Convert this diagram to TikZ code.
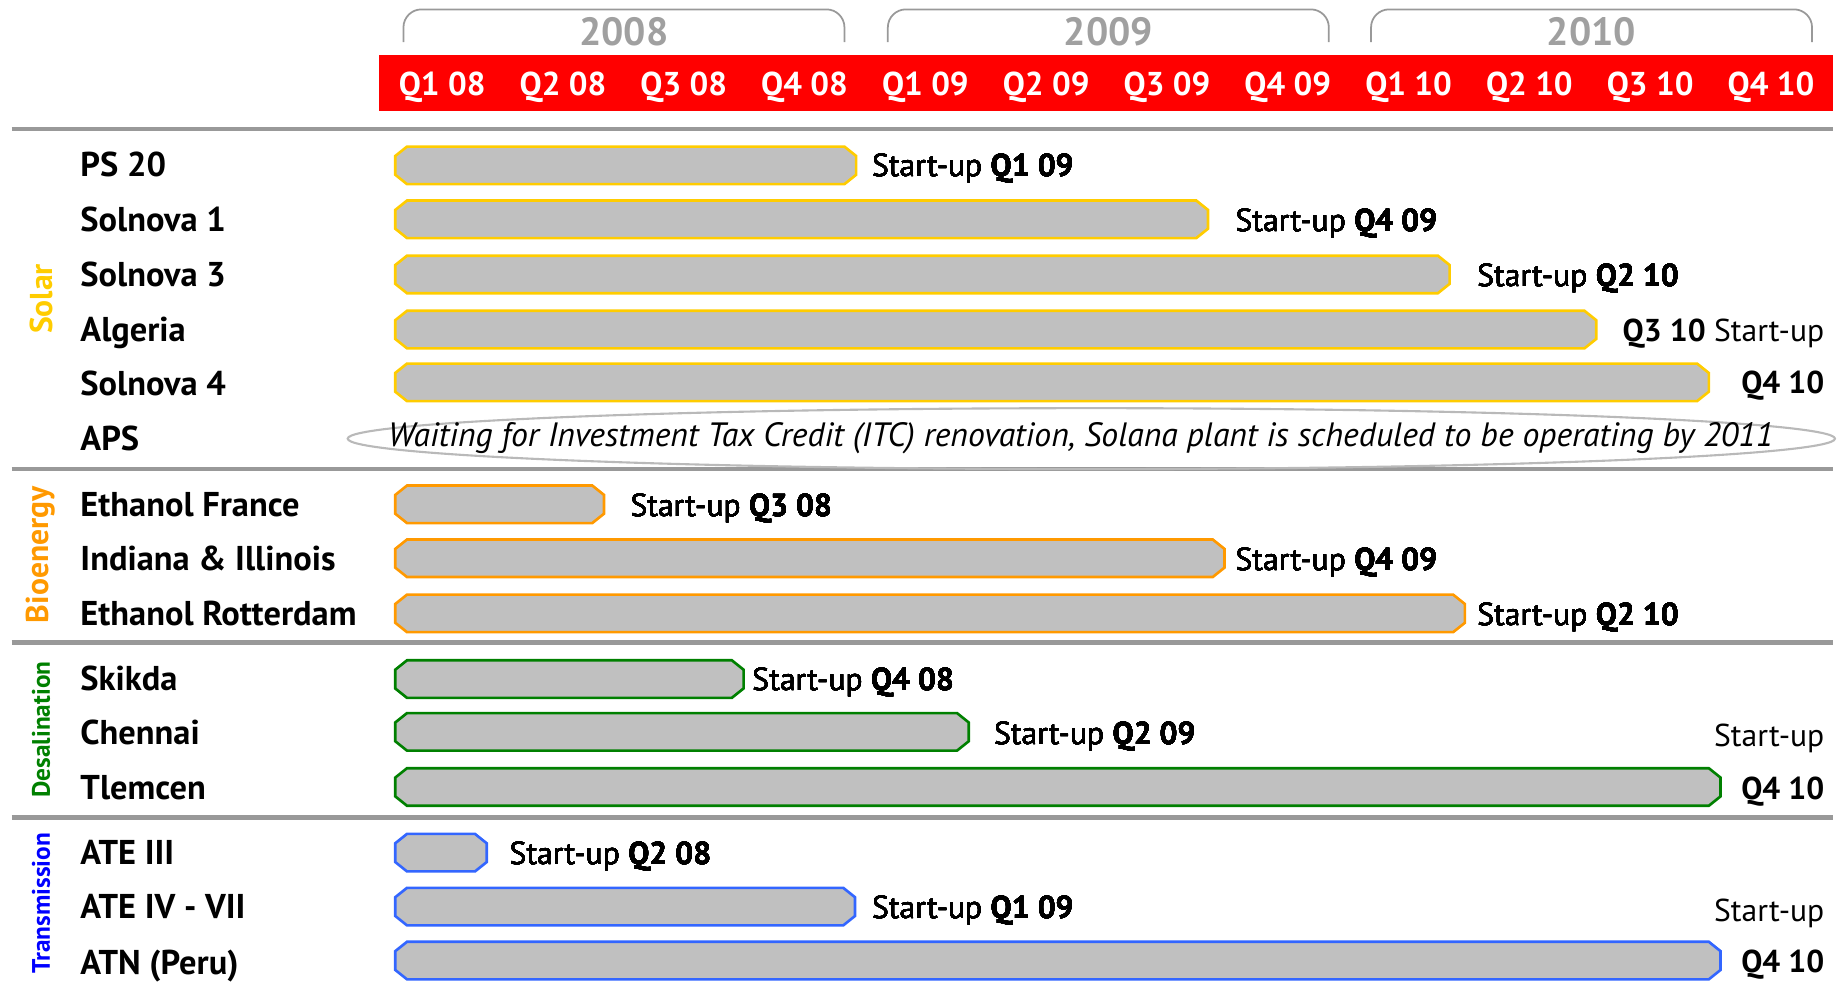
\documentclass[tikz,border=0pt]{standalone}
\usepackage{fontspec}
\setmainfont{PT Sans}
\usetikzlibrary{shapes.geometric}
\definecolor{solar}{RGB}{255,204,0}
\definecolor{bioen}{RGB}{255,153,0}
\definecolor{desal}{RGB}{0,128,0}
\definecolor{trans}{RGB}{51,102,255}
\definecolor{transtxt}{RGB}{0,0,255}
\definecolor{barfill}{RGB}{192,192,192}
\definecolor{rulegrey}{RGB}{153,153,153}
\definecolor{yeargrey}{RGB}{160,160,160}
\definecolor{qred}{RGB}{255,0,0}
\newcommand{\ganttbar}[3]{\draw[draw=#3, fill=barfill, line width=0.75pt] (337,#1-8) -- (347,#1-16) -- (#2-10,#1-16) -- (#2,#1-8) -- (#2,#1+8) -- (#2-10,#1+16) -- (347,#1+16) -- (337,#1+8) -- cycle;}

\begin{document}
\begin{tikzpicture}[x=0.011728cm,y=-0.011728cm,
  rowlabel/.style={anchor=west, inner sep=0pt, text height=0.7em, text depth=0pt, font=\fontsize{9.8}{11}\selectfont\bfseries},
  startup/.style={anchor=west, inner sep=0pt, text height=0.7em, text depth=0pt, font=\fontsize{9}{10}\selectfont},
  startupr/.style={startup, anchor=east},
  quarter/.style={text=white, inner sep=0pt, text height=0.7em, text depth=0pt, font=\fontsize{9.4}{10}\selectfont\bfseries},
  year/.style={text=yeargrey, inner sep=0pt, font=\fontsize{11.2}{12}\selectfont\bfseries},
  sector/.style={rotate=90, inner sep=0pt, font=\fontsize{9}{10}\selectfont\bfseries},
  yearbrace/.style={draw=rulegrey, line width=0.5pt, rounded corners=0.18cm},
  sepline/.style={draw=rulegrey, line width=1.3pt},
  noteellipse/.style={draw=gray!55, line width=0.6pt, ellipse, minimum width=14.88cm, minimum height=0.61cm},
  note/.style={inner sep=0pt, font=\fontsize{9.6}{11}\selectfont\itshape}]
\useasboundingbox (0,0) rectangle (1568,841);
% years and quarters
\foreach \a/\yr in {344/2008,757/2009,1169/2010} {
  \draw[yearbrace] (\a,36) -- (\a,8) -- (\a+376,8) -- (\a+376,36);
  \node[year] (y\yr) at (\a+188,27) {\yr};
}
\fill[qred] (323,47) rectangle (1563,95);
\foreach \q [count=\i from 0] in {Q1 08,Q2 08,Q3 08,Q4 08,Q1 09,Q2 09,Q3 09,Q4 09,Q1 10,Q2 10,Q3 10,Q4 10}
  \node[quarter] (q\i) at (377+103*\i,71) {\q};
\foreach \y in {110,400,548,697} \draw[sepline] (10,\y) -- (1563,\y);
% sectors
\node[sector, text=solar] (solar) at (35,255) {Solar};
\node[sector, text=bioen] (bioenergy) at (35,473) {Bioenergy};
\node[sector, text=desal, font=\fontsize{7.2}{9}\selectfont\bfseries] (desalination) at (35,622) {Desalination};
\node[sector, text=transtxt, font=\fontsize{7.2}{9}\selectfont\bfseries] (transmission) at (35,770) {Transmission};
% projects
\foreach \y/\n/\t in {140/ps20/PS 20,187/sol1/Solnova 1,234/sol3/Solnova 3,281/alg/Algeria,327/sol4/Solnova 4,374/aps/APS,
  430/ethfr/Ethanol France,476/indil/Indiana \& Illinois,523/ethrot/Ethanol Rotterdam,
  578/skikda/Skikda,624/chennai/Chennai,671/tlemcen/Tlemcen,
  727/ate3/ATE III,773/ate4/ATE IV - VII,820/atn/ATN (Peru)}
  \node[rowlabel] (\n) at (68,\y) {\t};
\foreach \y/\e/\c in {141/730/solar,187/1030/solar,234/1236/solar,281/1361/solar,326/1457/solar,
  430/515/bioen,476/1044/bioen,523/1249/bioen,
  579/634/desal,624/826/desal,671/1467/desal,
  727/415/trans,773/729/trans,819/1467/trans}
  \ganttbar{\y}{\e}{\c}
\foreach \y/\x/\n/\q in {140/743/ps20/Q1 09,187/1053/sol1/Q4 09,234/1259/sol3/Q2 10,
  430/537/ethfr/Q3 08,476/1053/indil/Q4 09,523/1259/ethrot/Q2 10,
  578/641/skikda/Q4 08,624/847/chennai/Q2 09,
  727/434/ate3/Q2 08,773/743/ate4/Q1 09}
  \node[startup] (su-\n) at (\x,\y) {Start-up \textbf{\q}};
\node[startupr] (su-alg) at (1556,281) {\textbf{Q3 10} Start-up};
\node[startupr] (su-sol4) at (1556,325) {\textbf{Q4 10}};
\node[startupr] (su-tlemcen) at (1556,626) {Start-up};
\node[startupr] (qq-tlemcen) at (1556,671) {\textbf{Q4 10}};
\node[startupr] (su-atn) at (1556,775) {Start-up};
\node[startupr] (qq-atn) at (1556,819) {\textbf{Q4 10}};
% APS note
\node[noteellipse] (apsring) at (930.5,374) {};
\node[note] (apsnote) at (921.5,374) {Waiting for Investment Tax Credit (ITC) renovation, Solana plant is scheduled to be operating by 2011};
\end{tikzpicture}
\end{document}
